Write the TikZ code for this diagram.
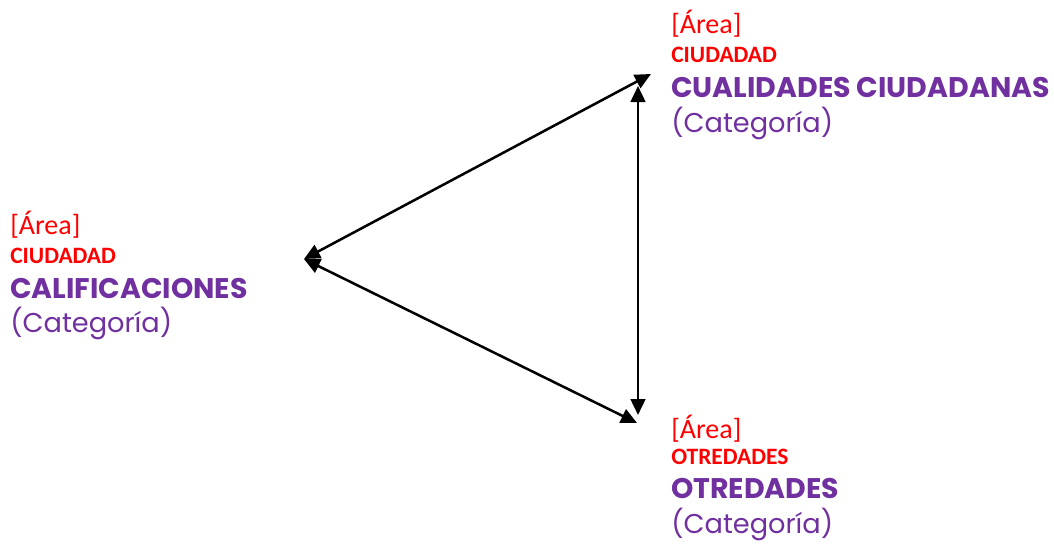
\documentclass[tikz,border=0pt]{standalone}
\usepackage{fontspec}
\setmainfont{Carlito}
\newfontfamily\gothic{Poppins}
\usepackage{tikz}
\usetikzlibrary{arrows.meta}
\definecolor{areared}{RGB}{255, 0, 0}
\definecolor{catpurple}{RGB}{112, 48, 160}

\begin{document}
\begin{tikzpicture}[x=0.75pt, y=-0.75pt,
  areatag/.style={anchor=base west, inner sep=0pt, text=areared, font=\fontsize{21}{21}\selectfont},
  areaname/.style={anchor=base west, inner sep=0pt, text=areared, font=\fontsize{17.6}{17.6}\selectfont\bfseries},
  catname/.style={anchor=base west, inner sep=0pt, text=catpurple, font=\gothic\fontsize{21.3}{21.3}\selectfont\bfseries},
  catlabel/.style={anchor=base west, inner sep=0pt, text=catpurple, font=\gothic\fontsize{20.4}{20.4}\selectfont},
  link/.style={{Triangle[length=12pt, width=11pt]}-{Triangle[length=12pt, width=11pt]}, line width=1.9pt}]
\useasboundingbox (0,0) rectangle (1054,546);

% Category blocks
\node[areatag] (calArea) at (10,234) {[Área]};
\node[areaname] (calCity) at (10,263) {CIUDADAD};
\node[catname] (calName) at (10,298) {CALIFICACIONES};
\node[catlabel] (calCat) at (10,332) {(Categoría)};

\node[areatag] (cuaArea) at (671,33) {[Área]};
\node[areaname] (cuaCity) at (671,62) {CIUDADAD};
\node[catname] (cuaName) at (671,97) {CUALIDADES CIUDADANAS};
\node[catlabel] (cuaCat) at (671,132) {(Categoría)};

\node[areatag] (otrArea) at (671,438) {[Área]};
\node[areaname] (otrCity) at (671,464) {OTREDADES};
\node[catname] (otrName) at (671,498) {OTREDADES};
\node[catlabel] (otrCat) at (671,533) {(Categoría)};

% Arrow end points
\coordinate (calTip) at (304,259);
\coordinate (cuaTip) at (651,74);
\coordinate (cuaTop) at (638,86);
\coordinate (otrTip) at (637,423);
\coordinate (otrBot) at (638,415);

% Links
\draw[link] (calTip) -- (cuaTip);
\draw[link] (calTip) -- (otrTip);
\draw[link] (cuaTop) -- (otrBot);
\end{tikzpicture}
\end{document}
